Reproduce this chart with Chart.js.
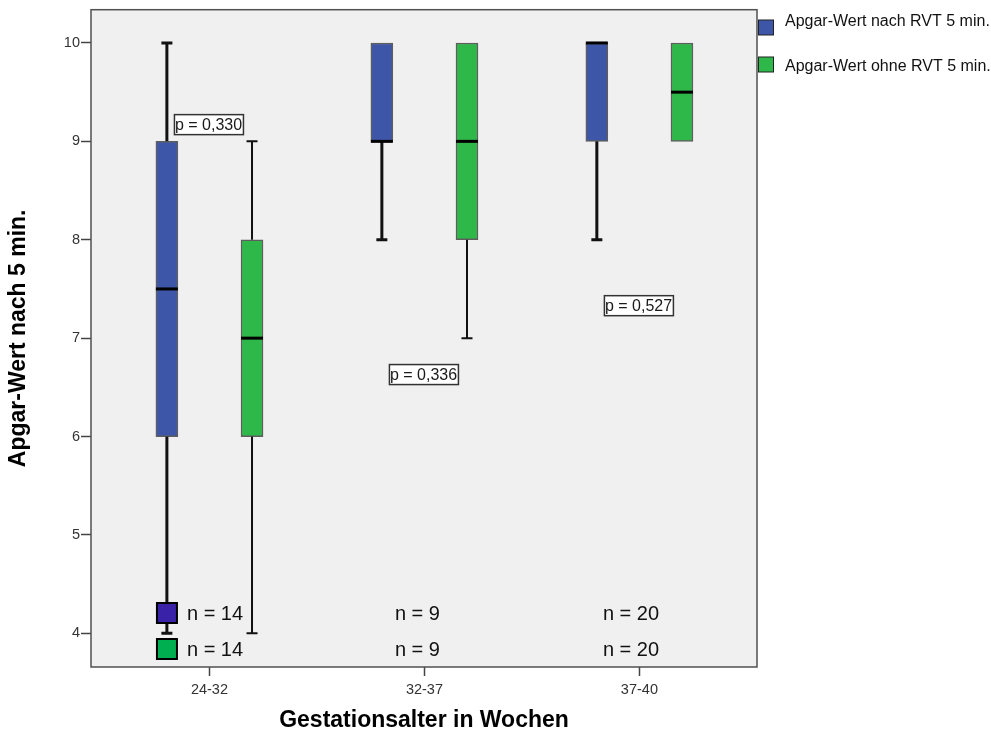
<!DOCTYPE html>
<html>
<head>
<meta charset="utf-8">
<script src="https://cdn.jsdelivr.net/npm/chart.js@4/dist/chart.umd.min.js"></script>
<style>
  html, body { margin: 0; padding: 0; background: #ffffff; }
  canvas { display: block; }
</style>
</head>
<body>
<canvas id="chart" width="991" height="736"></canvas>
<script>
// Gestational age groups and Apgar score (5 min) summaries per group
const categories = ['24-32', '32-37', '37-40'];
const seriesNames = ['Apgar-Wert nach RVT 5 min.', 'Apgar-Wert ohne RVT 5 min.'];

const rvtMin    = [4, 8, 8];
const rvtQ1     = [6, 9, 9];
const rvtMedian = [7.5, 9, 10];
const rvtQ3     = [9, 10, 10];
const rvtMax    = [10, 10, 10];

const ohneMin    = [4, 7, 9];
const ohneQ1     = [6, 8, 9];
const ohneMedian = [7, 9, 9.5];
const ohneQ3     = [8, 10, 10];
const ohneMax    = [9, 10, 10];

const rvtN  = [14, 9, 20];
const ohneN = [14, 9, 20];
const pValues = ['0,330', '0,336', '0,527'];

const yTickValues = [4, 5, 6, 7, 8, 9, 10];

// layout constants
const BOX_SHIFT = 0.198;             // box offset from group centre (axis units)
const P_LABEL_Y = [9.17, 6.63, 7.33]; // vertical anchor of the p-value boxes (axis units)
const N_TEXT_DX = [-22.5, -29.5, -36.5];
const FONT = '"Liberation Sans", Arial, sans-serif';

function boxData(q1, q3, shift) {
  return categories.map((c, i) => ({ x: i + shift, y: [q1[i], q3[i]] }));
}

const boxExtras = {
  id: 'boxExtras',
  beforeDraw(chart) {
    const { ctx, chartArea: a } = chart;
    ctx.save();
    ctx.fillStyle = '#ffffff';
    ctx.fillRect(0, 0, chart.width, chart.height);
    ctx.fillStyle = '#f0f0f0';
    ctx.fillRect(a.left, a.top, a.right - a.left, a.bottom - a.top);
    ctx.restore();
  },
  beforeDatasetsDraw(chart) {
    const { ctx } = chart;
    const ys = chart.scales.y;
    ctx.save();
    chart.data.datasets.forEach((ds, d) => {
      const meta = chart.getDatasetMeta(d);
      ctx.strokeStyle = '#111111';
      ctx.lineWidth = ds.whiskerWidth;
      meta.data.forEach((bar, i) => {
        const x = bar.x;
        const segs = [
          [ds.stats.q1[i], ds.stats.min[i]],
          [ds.stats.q3[i], ds.stats.max[i]]
        ];
        segs.forEach(([from, to]) => {
          if (from === to) return;
          const y0 = ys.getPixelForValue(from);
          const y1 = ys.getPixelForValue(to);
          ctx.beginPath();
          ctx.moveTo(x, y0);
          ctx.lineTo(x, y1);
          ctx.moveTo(x - 5.5, y1);
          ctx.lineTo(x + 5.5, y1);
          ctx.stroke();
        });
      });
    });
    ctx.restore();
  },
  afterDatasetsDraw(chart) {
    const { ctx, chartArea: a } = chart;
    const xs = chart.scales.x, ys = chart.scales.y;
    ctx.save();

    // medians
    chart.data.datasets.forEach((ds, d) => {
      const meta = chart.getDatasetMeta(d);
      meta.data.forEach((bar, i) => {
        const y = ys.getPixelForValue(ds.stats.median[i]);
        ctx.strokeStyle = '#000000';
        ctx.lineWidth = 3;
        ctx.beginPath();
        ctx.moveTo(bar.x - bar.width / 2, y);
        ctx.lineTo(bar.x + bar.width / 2, y);
        ctx.stroke();
      });
    });

    // plot frame
    ctx.strokeStyle = '#505050';
    ctx.lineWidth = 1.5;
    ctx.strokeRect(a.left, a.top, a.right - a.left, a.bottom - a.top);

    // sample sizes
    const rows = [
      { y: a.bottom - 54, n: rvtN, color: '#3a22a8' },
      { y: a.bottom - 18, n: ohneN, color: '#00b050' }
    ];
    ctx.font = '20px ' + FONT;
    ctx.textBaseline = 'middle';
    ctx.textAlign = 'left';
    categories.forEach((c, i) => {
      const px = xs.getPixelForValue(i);
      rows.forEach(r => {
        if (i === 0) {
          ctx.fillStyle = r.color;
          ctx.fillRect(px - 52.5, r.y - 10, 20, 20);
          ctx.strokeStyle = '#000000';
          ctx.lineWidth = 2;
          ctx.strokeRect(px - 52.5, r.y - 10, 20, 20);
        }
        ctx.fillStyle = '#111111';
        ctx.fillText('n = ' + r.n[i], px + N_TEXT_DX[i], r.y + 1);
      });
    });

    // p-values
    ctx.font = '16px ' + FONT;
    categories.forEach((c, i) => {
      const px = xs.getPixelForValue(i);
      const cy = ys.getPixelForValue(P_LABEL_Y[i]);
      const bx = px - 35, bw = 69, bh = 20, by = cy - bh / 2;
      ctx.fillStyle = '#ffffff';
      ctx.fillRect(bx, by, bw, bh);
      ctx.save();
      ctx.beginPath();
      ctx.rect(bx, by, bw, bh);
      ctx.clip();
      ctx.fillStyle = '#1a1a1a';
      ctx.fillText('p = ' + pValues[i], bx + 0.5, cy + 1);
      ctx.restore();
      ctx.strokeStyle = '#333333';
      ctx.lineWidth = 1.5;
      ctx.strokeRect(bx, by, bw, bh);
    });

    // legend
    const markerTop = [20, 57];
    const textMid = [22, 67];
    ctx.font = '16px ' + FONT;
    chart.data.datasets.forEach((ds, d) => {
      ctx.fillStyle = ds.backgroundColor;
      ctx.fillRect(a.right + 1.5, markerTop[d], 15, 15);
      ctx.strokeStyle = '#222222';
      ctx.lineWidth = 1;
      ctx.strokeRect(a.right + 1.5, markerTop[d], 15, 15);
      ctx.fillStyle = '#111111';
      ctx.fillText(ds.label, 785, textMid[d]);
    });

    ctx.restore();
  }
};

new Chart(document.getElementById('chart'), {
  type: 'bar',
  data: {
    datasets: [
      {
        label: seriesNames[0],
        data: boxData(rvtQ1, rvtQ3, -BOX_SHIFT),
        stats: { min: rvtMin, q1: rvtQ1, median: rvtMedian, q3: rvtQ3, max: rvtMax },
        backgroundColor: '#3d56a8',
        borderColor: 'rgba(45,45,45,0.75)',
        borderWidth: 1.5,
        whiskerWidth: 3
      },
      {
        label: seriesNames[1],
        data: boxData(ohneQ1, ohneQ3, BOX_SHIFT),
        stats: { min: ohneMin, q1: ohneQ1, median: ohneMedian, q3: ohneQ3, max: ohneMax },
        backgroundColor: '#2fb84a',
        borderColor: 'rgba(45,45,45,0.75)',
        borderWidth: 1.5,
        whiskerWidth: 2
      }
    ]
  },
  options: {
    responsive: false,
    animation: false,
    events: [],
    grouped: false,
    barThickness: 22,
    borderSkipped: false,
    layout: { padding: { left: 0, top: 9, right: 234, bottom: 0 } },
    plugins: {
      legend: { display: false },
      tooltip: { enabled: false }
    },
    scales: {
      x: {
        type: 'linear',
        min: -0.551,
        max: 2.547,
        offset: false,
        afterFit(scale) { scale.height = 69; },
        afterBuildTicks(scale) { scale.ticks = categories.map((c, i) => ({ value: i })); },
        grid: { offset: false, drawOnChartArea: false, drawTicks: true, tickLength: 9, tickColor: '#444444', tickWidth: 1.5 },
        border: { display: false },
        ticks: {
          padding: 5,
          color: '#333333',
          font: { family: FONT, size: 14.5 },
          maxRotation: 0,
          callback: (v) => categories[v]
        },
        title: {
          display: true,
          text: 'Gestationsalter in Wochen',
          color: '#000000',
          font: { family: FONT, size: 23, weight: 'bold' },
          padding: { top: 0, bottom: 2 }
        }
      },
      y: {
        type: 'linear',
        min: 3.658,
        max: 10.338,
        afterFit(scale) { scale.width = 91; },
        afterBuildTicks(scale) { scale.ticks = yTickValues.map(v => ({ value: v })); },
        grid: { drawOnChartArea: false, drawTicks: true, tickLength: 10, tickColor: '#444444', tickWidth: 1.5 },
        border: { display: false },
        ticks: {
          padding: 1,
          color: '#333333',
          font: { family: FONT, size: 14.5 },
          callback: (v) => String(v)
        },
        title: {
          display: true,
          text: 'Apgar-Wert nach 5 min.',
          color: '#000000',
          font: { family: FONT, size: 23, weight: 'bold' },
          padding: { top: 5, bottom: 0 }
        }
      }
    }
  },
  plugins: [boxExtras]
});
</script>
</body>
</html>
